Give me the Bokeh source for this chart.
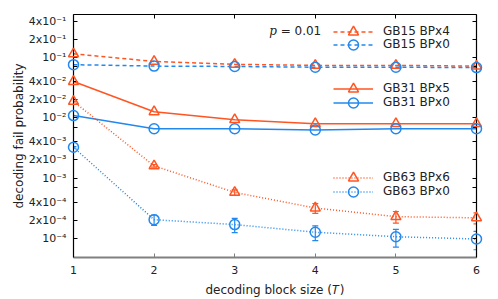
from bokeh.plotting import figure
from bokeh.models import (Range1d, FixedTicker, LogAxis, LinearAxis, Legend,
                          LegendItem, Whisker, TeeHead, ColumnDataSource, Label,
                          CustomJSTickFormatter)
from bokeh.embed import file_html
from bokeh.resources import INLINE

# ---- data ----
T = [1, 2, 3, 4, 5, 6]
gb15_bp4 = [0.115, 0.086, 0.077, 0.074, 0.074, 0.072]
gb15_bp0 = [0.076, 0.072, 0.071, 0.069, 0.069, 0.068]
gb31_bp5 = [0.040, 0.0126, 0.0093, 0.0080, 0.0080, 0.0080]
gb31_bp0 = [0.0109, 0.0066, 0.0066, 0.0063, 0.0066, 0.0066]
gb63_bp6 = [0.0187, 0.0016, 5.8e-4, 3.2e-4, 2.3e-4, 2.2e-4]
gb63_bp6_err = [3e-4, 8e-5, 6e-5, 6e-5, 5e-5, 4.5e-5]
gb63_bp0 = [3.25e-3, 2.05e-4, 1.7e-4, 1.27e-4, 1.07e-4, 9.8e-5]
gb63_bp0_err = [1e-4, 4e-5, 4.5e-5, 3.5e-5, 3.5e-5, 3.3e-5]

y_ticks = [1e-4, 2e-4, 4e-4, 1e-3, 2e-3, 4e-3, 1e-2, 2e-2, 4e-2, 1e-1, 2e-1, 4e-1]
y_tick_labels = ["10⁻⁴", "2x10⁻⁴", "4x10⁻⁴", "10⁻³", "2x10⁻³", "4x10⁻³",
                 "10⁻²", "2x10⁻²", "4x10⁻²", "10⁻¹", "2x10⁻¹", "4x10⁻¹"]
y_minor = [7e-4, 7e-3, 7e-2]
x_ticks = [1, 2, 3, 4, 5, 6]

ORANGE = "#ff5522"
BLUE = "#2288ee"
FONT = "DejaVu Sans"

p = figure(width=498, height=299, output_backend="svg", toolbar_location=None,
           y_axis_type="log", x_range=Range1d(1, 6), y_range=Range1d(4.84e-5, 0.516),
           min_border_left=73, min_border_right=22, min_border_top=14, min_border_bottom=42)
p.grid.visible = False
p.outline_line_color = None
p.background_fill_color = "white"

yt = FixedTicker(ticks=y_ticks, minor_ticks=y_minor)
xt = FixedTicker(ticks=x_ticks, minor_ticks=[])
blank = CustomJSTickFormatter(code="return ''")

# left axis
ya = p.yaxis[0]
ya.ticker = yt
ya.major_label_overrides = {t: l for t, l in zip(y_ticks, y_tick_labels)}
ya.major_tick_in = 4
ya.major_tick_out = 0
ya.minor_tick_in = 4
ya.minor_tick_out = 0
ya.axis_line_color = "black"
ya.axis_line_width = 1.2
ya.major_label_text_font = FONT
ya.major_label_text_font_size = "11px"
ya.major_label_text_color = "#222222"
ya.major_label_standoff = 7
ya.axis_label = "decoding fail probability"
ya.axis_label_text_font = FONT
ya.axis_label_text_font_size = "12px"
ya.axis_label_text_font_style = "normal"
ya.axis_label_text_color = "#222222"
ya.axis_label_standoff = 0

# bottom axis
xa = p.xaxis[0]
xa.ticker = xt
xa.major_tick_in = 4
xa.major_tick_out = 0
xa.minor_tick_line_color = None
xa.axis_line_color = "#808080"
xa.axis_line_width = 2
xa.major_tick_line_color = "#808080"
xa.major_label_text_font = FONT
xa.major_label_text_font_size = "11px"
xa.major_label_text_color = "#222222"
xa.major_label_standoff = 8
xa.axis_label = "decoding block size (𝑇)"
xa.axis_label_text_font = FONT
xa.axis_label_text_font_size = "12px"
xa.axis_label_text_font_style = "normal"
xa.axis_label_text_color = "#222222"
xa.axis_label_standoff = 6

# right axis (ticks only)
ra = LogAxis(ticker=yt, formatter=blank, major_tick_in=4, major_tick_out=0,
             minor_tick_in=4, minor_tick_out=0, axis_line_color="black",
             axis_line_width=1.2, major_label_standoff=0)
p.add_layout(ra, "right")
# top axis (ticks only)
ta = LinearAxis(ticker=xt, formatter=blank, major_tick_in=4, major_tick_out=0,
                minor_tick_line_color=None, axis_line_color="black",
                axis_line_width=1.2, major_label_standoff=0)
p.add_layout(ta, "above")


def series(y, color, marker, dash, err=None):
    d = dict(x=T, y=y)
    if err is not None:
        d["upper"] = [a + b for a, b in zip(y, err)]
        d["lower"] = [a - b for a, b in zip(y, err)]
    src = ColumnDataSource(d)
    ln = p.line("x", "y", source=src, line_color=color, line_width=1.5, line_dash=dash)
    sc = p.scatter("x", "y", source=src, marker=marker, size=10, line_color=color,
                   line_width=1.5, fill_color=None, level="overlay")
    if err is not None:
        w = Whisker(source=src, base="x", upper="upper", lower="lower", dimension="height",
                    line_color=color, line_width=1.2,
                    upper_head=TeeHead(size=6, line_color=color, line_width=1.2),
                    lower_head=TeeHead(size=6, line_color=color, line_width=1.2))
        p.add_layout(w)
    return [ln, sc]


r15a = series(gb15_bp4, ORANGE, "triangle", "4 3")
r15b = series(gb15_bp0, BLUE, "circle", "4 3")
r31a = series(gb31_bp5, ORANGE, "triangle", "solid")
r31b = series(gb31_bp0, BLUE, "circle", "solid")
r63a = series(gb63_bp6, ORANGE, "triangle", "1 2", gb63_bp6_err)
r63b = series(gb63_bp0, BLUE, "circle", "1 2", gb63_bp0_err)


def legend(label, renderers, loc):
    lg = Legend(items=[LegendItem(label=label, renderers=renderers)],
                location=loc, padding=0, spacing=0, margin=0, glyph_width=40,
                glyph_height=25, label_height=25, label_standoff=10,
                label_text_font=FONT, label_text_font_size="12px",
                label_text_color="#222222",
                border_line_color=None, background_fill_alpha=0)
    p.add_layout(lg)


legend("GB15 BPx4", r15a, (260, 213.5))
legend("GB15 BPx0", r15b, (260, 200.5))
legend("GB31 BPx5", r31a, (260, 156.5))
legend("GB31 BPx0", r31b, (260, 142.5))
legend("GB63 BPx6", r63a, (260, 67.5))
legend("GB63 BPx0", r63b, (260, 53.5))

p.add_layout(Label(x=3.43, y=0.27, text="p", text_font="DejaVu Serif",
                   text_font_style="italic", text_font_size="12px",
                   text_baseline="middle", text_color="#222222"))
p.add_layout(Label(x=3.57, y=0.27, text="= 0.01", text_font=FONT,
                   text_font_size="12px", text_baseline="middle", text_color="#222222"))

open("out.html", "w").write(file_html(p, INLINE))
